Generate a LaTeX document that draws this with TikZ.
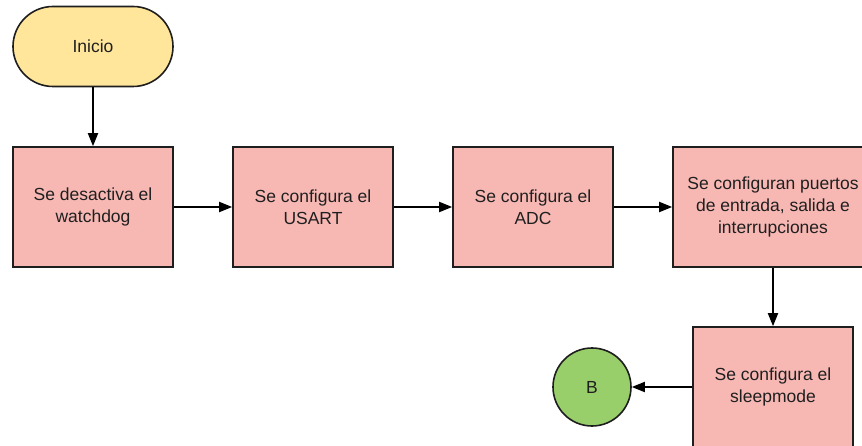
\documentclass[tikz,border=0pt]{standalone}
\usepackage{fontspec}
\setmainfont{Liberation Sans}
\usetikzlibrary{arrows.meta,positioning}
\definecolor{termyellow}{HTML}{FFE69A}
\definecolor{procpink}{HTML}{F7B8B4}
\definecolor{conngreen}{HTML}{99CF6A}
\definecolor{edgegray}{HTML}{1E1E1E}
\begin{document}
\begin{tikzpicture}[x=1pt,y=-1pt,
  every node/.style={font=\fontsize{17.5}{22}\selectfont, text=black!88, align=center, inner sep=0pt},
  procbox/.style={draw=edgegray, line width=1.6pt, fill=procpink, minimum height=120pt},
  termbox/.style={draw=edgegray, line width=1.6pt, fill=termyellow, rounded corners=40pt, minimum width=160pt, minimum height=80pt},
  connbox/.style={draw=edgegray, line width=1.6pt, fill=conngreen, circle, minimum size=78pt},
  flow/.style={draw=black, line width=1.8pt, -{Triangle[length=13pt,width=10pt]}}
]
\useasboundingbox (0,0) rectangle (862,446);
\clip (0,0) rectangle (862,446);
\node[termbox] (ini) at (93,46.5) {Inicio};
\node[procbox, minimum width=160pt] (wd) at (93,207) {Se desactiva el\\watchdog};
\node[procbox, minimum width=160pt] (us) at (313,207) {Se configura el\\USART};
\node[procbox, minimum width=160pt] (adc) at (533,207) {Se configura el\\ADC};
\node[procbox, minimum width=200pt] (io) at (773,207) {Se configuran puertos\\de entrada, salida e\\interrupciones};
\node[procbox, minimum width=160pt] (sl) at (773,387) {Se configura el\\sleepmode};
\node[connbox] (b) at (592,387) {B};
\draw[flow] (ini) -- (wd);
\draw[flow] (wd) -- (us);
\draw[flow] (us) -- (adc);
\draw[flow] (adc) -- (io);
\draw[flow] (io) -- (sl);
\draw[flow] (sl) -- (b);
\end{tikzpicture}
\end{document}
